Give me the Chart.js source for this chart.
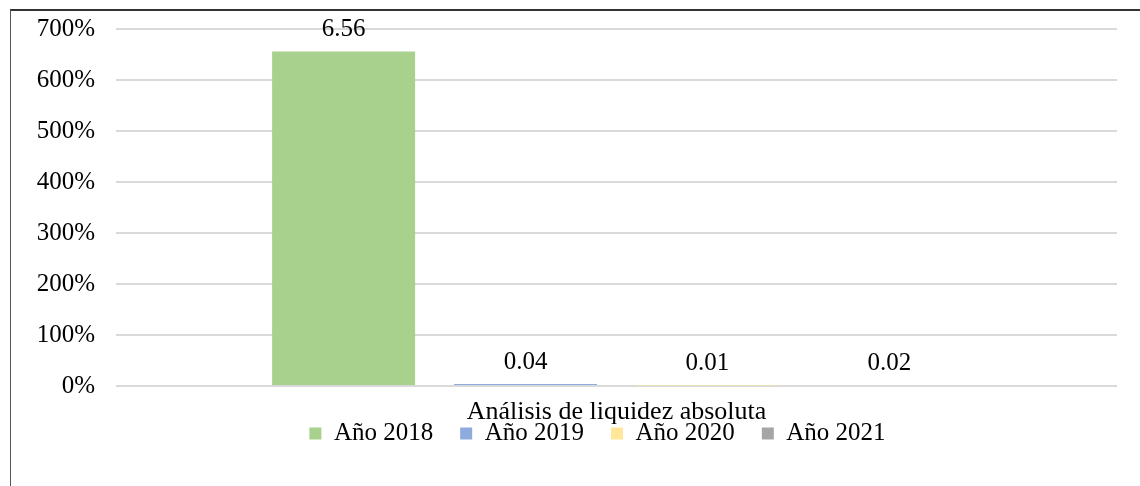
<!DOCTYPE html>
<html>
<head>
<meta charset="utf-8">
<script src="https://cdn.jsdelivr.net/npm/chart.js@4"></script>
<style>
  body { margin: 0; background: #fff; }
  #wrap { position: relative; width: 1140px; height: 486px; }
  #frame {
    position: absolute; left: 10px; top: 9px; right: 0; bottom: 0;
    border-left: 1px solid #555; border-top: 2px solid #333;
    pointer-events: none;
  }
</style>
</head>
<body>
<div id="wrap">
  <canvas id="chart" width="1140" height="486"></canvas>
  <div id="frame"></div>
</div>
<script>
const categories = ["Análisis de liquidez absoluta"];
const seriesNames = ["Año 2018", "Año 2019", "Año 2020", "Año 2021"];
const seriesValues = [[6.56], [0.04], [0.01], [0.02]];
const seriesColors = ["#a9d18e", "#8faadc", "#ffe699", "#a5a5a5"];
const yTicks = [0, 1, 2, 3, 4, 5, 6, 7];

const serif = "'Liberation Serif', 'DejaVu Serif', serif";
Chart.defaults.font.family = serif;
Chart.defaults.color = "#000";

// value above each bar + the category name under the axis
const valueLabels = {
  id: "valueLabels",
  afterLayout(chart) {
    // excel centres the legend a bit to the right
    chart.legend.left += 39;
    chart.legend.right += 39;
  },
  afterDatasetsDraw(chart) {
    const ctx = chart.ctx;
    const xs = chart.scales.x;
    ctx.save();
    ctx.fillStyle = "#000";
    ctx.textAlign = "center";
    ctx.font = "25px " + serif;
    ctx.textBaseline = "alphabetic";
    chart.data.datasets.forEach((ds, i) => {
      chart.getDatasetMeta(i).data.forEach((bar, j) => {
        ctx.fillText(ds.data[j].toFixed(2), bar.x, bar.y - 15);
      });
    });
    ctx.font = "26px " + serif;
    ctx.textBaseline = "middle";
    categories.forEach((c, i) => {
      ctx.fillText(c, xs.getPixelForTick(i), chart.chartArea.bottom + 26);
    });
    ctx.restore();
  },
};

new Chart(document.getElementById("chart"), {
  type: "bar",
  data: {
    labels: categories,
    datasets: seriesNames.map((name, i) => ({
      label: name,
      data: seriesValues[i],
      backgroundColor: seriesColors[i],
      barPercentage: 0.786,
      categoryPercentage: 0.727,
    })),
  },
  options: {
    responsive: false,
    animation: false,
    layout: { padding: { top: 29, right: 23, left: 0, bottom: 30 } },
    plugins: {
      legend: {
        position: "bottom",
        labels: {
          font: { size: 25 },
          boxWidth: 12,
          boxHeight: 12,
          padding: 27,
        },
      },
      tooltip: { enabled: false },
    },
    scales: {
      x: {
        afterFit: (s) => { s.height = 8; },
        grid: { display: false, drawTicks: false },
        border: { display: false },
        ticks: { display: false },
      },
      y: {
        min: 0,
        max: 7,
        afterBuildTicks: (s) => { s.ticks = yTicks.map((v) => ({ value: v })); },
        afterFit: (s) => { s.width = 116; },
        grid: { color: "#d9d9d9", lineWidth: 2, tickLength: 21, tickColor: "rgba(0,0,0,0)" },
        border: { display: false },
        ticks: {
          font: { size: 25 },
          padding: 0,
          callback: (v) => Math.round(v * 100) + "%",
        },
      },
    },
  },
  plugins: [valueLabels],
});
</script>
</body>
</html>
